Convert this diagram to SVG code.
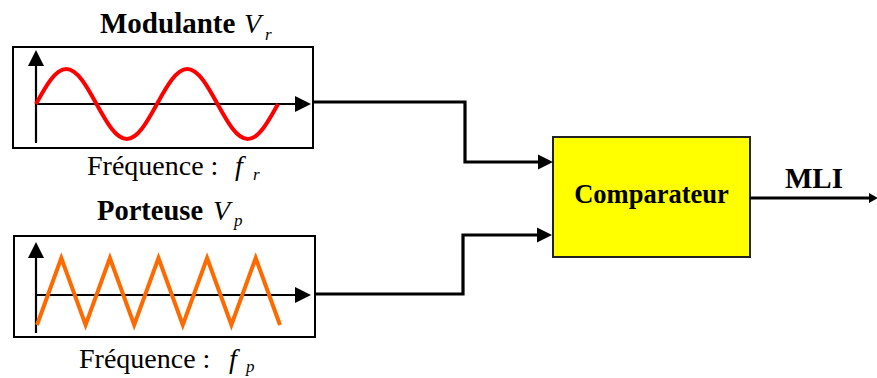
<svg xmlns="http://www.w3.org/2000/svg" width="877" height="378" viewBox="0 0 877 378">
<style>
.frame{fill:#fff;stroke:#000;stroke-width:2}
.axis{fill:none;stroke:#000;stroke-width:2.2}
.wire{fill:none;stroke:#000;stroke-width:3.2}
</style>
<defs>
<marker id="ah" markerUnits="userSpaceOnUse" markerWidth="20" markerHeight="20" viewBox="0 -10 20 20" refX="0" refY="0" orient="auto">
<path d="M0,-7.5 L15,0 L0,7.5 Z" fill="#000"/>
</marker>
<marker id="ax" markerUnits="userSpaceOnUse" markerWidth="20" markerHeight="20" viewBox="0 -10 20 20" refX="0" refY="0" orient="auto">
<path d="M0,-8 L16,0 L0,8 Z" fill="#000"/>
</marker>
<marker id="ao" markerUnits="userSpaceOnUse" markerWidth="20" markerHeight="20" viewBox="0 -10 20 20" refX="0" refY="0" orient="auto">
<path d="M0,-5 L9,0 L0,5 Z" fill="#000"/>
</marker>
</defs>

<g font-family="'Liberation Serif', 'Times New Roman', 'DejaVu Serif', serif" fill="#000">
<g id="modulante">
<text x="100" y="33" font-size="29" font-weight="bold">Modulante</text>
<text x="244" y="33" font-size="28" font-style="italic">V</text>
<text x="265" y="40" font-size="17" font-style="italic">r</text>
<rect class="frame" x="13" y="47" width="300" height="101"/>
<line class="axis" x1="36" y1="143" x2="36" y2="66" marker-end="url(#ax)"/>
<line class="axis" x1="36" y1="104" x2="295" y2="104" marker-end="url(#ax)"/>
<path fill="none" stroke="#FF0000" stroke-width="4" d="M36,104 C45.87,86.07 55.36,69 66.25,69 C77.14,69 86.63,86.07 96.5,104 C106.37,121.93 115.86,139 126.75,139 C137.64,139 147.13,121.93 157,104 C166.87,86.07 176.36,69 187.25,69 C198.14,69 207.63,86.07 217.5,104 C227.37,121.93 236.86,139 247.75,139 C258.64,139 268.13,121.93 278,104"/>
<text x="87" y="175" font-size="28">Fréquence :</text>
<text x="235" y="175" font-size="28" font-style="italic">f</text>
<text x="253" y="180" font-size="17" font-style="italic">r</text>
</g>

<g id="porteuse">
<text x="97" y="220" font-size="28.5" font-weight="bold">Porteuse</text>
<text x="213" y="220" font-size="28" font-style="italic">V</text>
<text x="234" y="226" font-size="17" font-style="italic">p</text>
<rect class="frame" x="14" y="236" width="301" height="101"/>
<line class="axis" x1="36" y1="333" x2="36" y2="258" marker-end="url(#ax)"/>
<line class="axis" x1="36" y1="295" x2="295" y2="295" marker-end="url(#ax)"/>
<polyline fill="none" stroke="#FF6A00" stroke-width="4" points="37,325 61.3,258 85.6,325 109.9,258 134.2,325 158.5,258 182.8,325 207.1,258 231.4,325 255.7,258 280,325"/>
<text x="79" y="368" font-size="28">Fréquence :</text>
<text x="229" y="368" font-size="28" font-style="italic">f</text>
<text x="246" y="372" font-size="17" font-style="italic">p</text>
</g>

<g id="comparateur">
<rect x="553" y="137" width="197" height="120" fill="#FFFF00" stroke="#222" stroke-width="2"/>
<text x="651.5" y="203" font-size="26.5" font-weight="bold" text-anchor="middle">Comparateur</text>
</g>

<g id="mli">
<text x="785" y="188" font-size="29" font-weight="bold">MLI</text>
</g>
</g>

<g id="connectors">
<polyline class="wire" points="314,102 465,102 465,162 538,162" marker-end="url(#ah)"/>
<polyline class="wire" points="316,294 463,294 463,235 537,235" marker-end="url(#ah)"/>
<line class="wire" x1="750" y1="198" x2="869" y2="198" marker-end="url(#ao)"/>
</g>
</svg>
